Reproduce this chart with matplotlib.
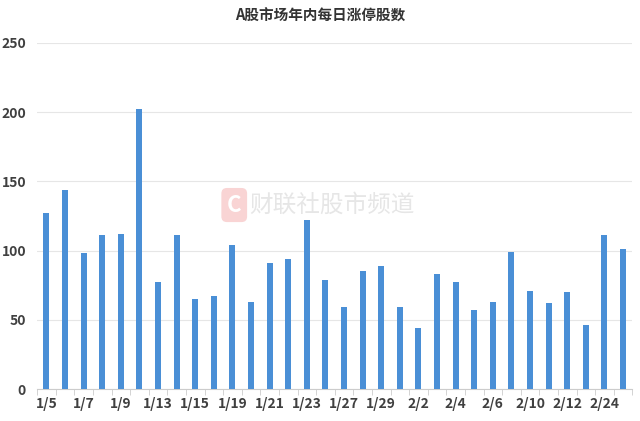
import matplotlib.pyplot as plt
import numpy as np

plt.rcParams["font.family"] = ["Noto Sans CJK SC", "DejaVu Sans"]

TITLE = "A股市场年内每日涨停股数"

dates = ["1/5", "1/6", "1/7", "1/8", "1/9", "1/12", "1/13", "1/14", "1/15", "1/16",
         "1/19", "1/20", "1/21", "1/22", "1/23", "1/26", "1/27", "1/28", "1/29", "1/30",
         "2/2", "2/3", "2/4", "2/5", "2/6", "2/9", "2/10", "2/11", "2/12", "2/13",
         "2/24", "2/25"]
counts = [127, 144, 98, 111, 112, 202, 77, 111, 65, 67,
          104, 63, 91, 94, 122, 79, 59, 85, 89, 59,
          44, 83, 77, 57, 63, 99, 71, 62, 70, 46,
          111, 101]
yticks = [0, 50, 100, 150, 200, 250]

BAR_COLOR = "#4a8fd6"
TEXT_COLOR = "#404040"
GRID_COLOR = "#e6e6e6"

fig = plt.figure(figsize=(6.4, 4.21), dpi=100)
ax = fig.add_axes([0.058, 0.076, 0.93, 0.822])

x = np.arange(len(dates))
ax.bar(x, counts, width=0.32, color=BAR_COLOR, zorder=3)

ax.set_xlim(-0.5, len(dates) - 0.5)
ax.set_ylim(0, 250)
ax.set_yticks(yticks)
ax.yaxis.grid(True, color=GRID_COLOR, linewidth=0.8, zorder=0)

# label every other day, boundary ticks between categories
ax.set_xticks(x[::2])
ax.set_xticklabels(dates[::2])
ax.set_xticks(np.arange(-0.5, len(dates), 1), minor=True)
ax.tick_params(axis="x", which="major", length=0, pad=6,
               labelsize=10, labelcolor=TEXT_COLOR)
ax.tick_params(axis="x", which="minor", length=4, color="#cccccc")
ax.tick_params(axis="y", length=0, pad=8, labelsize=10, labelcolor=TEXT_COLOR)
for lab in ax.get_xticklabels() + ax.get_yticklabels():
    lab.set_fontweight("bold")

for side in ["top", "right", "left"]:
    ax.spines[side].set_visible(False)
ax.spines["bottom"].set_color("#cccccc")

fig.text(0.5, 0.962, TITLE, ha="center", va="center", fontsize=10.5,
         fontweight="bold", color="#333333")

# faint watermark
fig.text(0.366, 0.513, "C", ha="center", va="center", fontsize=16,
         fontweight="bold", color="white",
         bbox=dict(boxstyle="round,pad=0.25", fc="#f9d4d4", ec="none"))
fig.text(0.39, 0.513, "财联社股市频道", ha="left", va="center",
         fontsize=17, color="#e6e6e6")

fig.savefig("out.png", dpi=100)
